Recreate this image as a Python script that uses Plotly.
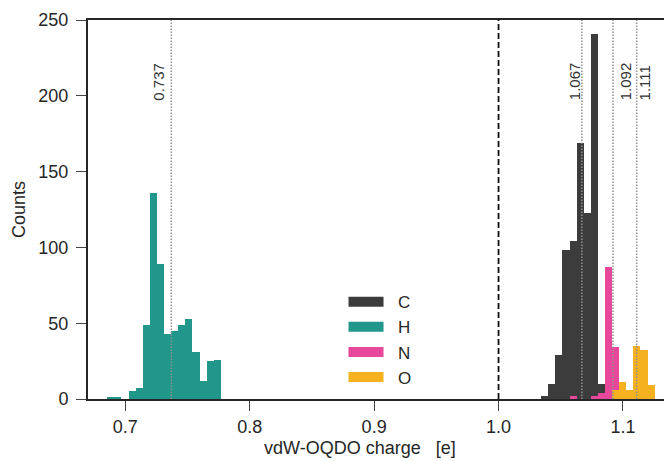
import plotly.graph_objects as go

# ---- data ----
elements = ["C", "H", "N", "O"]
colors = ["#3c3c3c", "#21968a", "#e8489b", "#f5b120"]

# histogram bin starts, bin widths and counts per element
bin_start = {"C": 1.0341, "H": 0.6855, "N": 1.0574, "O": 1.0912}
bin_width = {"C": 0.005745, "H": 0.005704, "N": 0.005657, "O": 0.005725}
counts_C = [2, 10, 29, 98, 104, 169, 123, 241, 10]
counts_H = [1, 1, 0, 5, 7, 49, 136, 89, 43, 45, 49, 53, 31, 12, 25, 26]
counts_N = [2, 0, 0, 2, 4, 87, 34]
counts_O = [6, 11, 6, 35, 32, 9]
counts = {"C": counts_C, "H": counts_H, "N": counts_N, "O": counts_O}

mean_values = [0.737, 1.067, 1.092, 1.111]
mean_labels = ["0.737", "1.067", "1.092", "1.111"]
label_xshift = [-13, -8, 12, 8]
reference_line = 1.0

x_ticks = [0.7, 0.8, 0.9, 1.0, 1.1]
x_ticklabels = ["0.7", "0.8", "0.9", "1.0", "1.1"]
y_ticks = [0, 50, 100, 150, 200, 250]

FONT = "Liberation Sans, Arial, Helvetica, sans-serif"
AX = "#262626"

fig = go.Figure()
for el, col in zip(elements, colors):
    c = counts[el]
    w = bin_width[el]
    centers = [bin_start[el] + w * (i + 0.5) for i in range(len(c))]
    fig.add_trace(go.Bar(x=centers, y=c, width=w, marker=dict(color=col, line=dict(width=0)),
                         showlegend=False, name=el))
for el, col in zip(elements, colors):
    fig.add_trace(go.Scatter(x=[None], y=[None], mode="lines", name="\u00a0\u00a0" + el,
                             line=dict(color=col, width=12)))

for v in mean_values:
    fig.add_shape(type="line", xref="x", yref="paper", x0=v, x1=v, y0=0, y1=1,
                  line=dict(color="#909090", width=1.5, dash="1.5px,1.5px"), layer="above")
fig.add_shape(type="line", xref="x", yref="paper", x0=reference_line, x1=reference_line, y0=0, y1=1,
              line=dict(color="#111111", width=1.8, dash="6px,3px"), layer="above")

for v, t, dx in zip(mean_values, mean_labels, label_xshift):
    fig.add_annotation(x=v, y=195.7, xref="x", yref="y", text=t, textangle=-90, showarrow=False,
                       xanchor="center", yanchor="bottom", xshift=dx,
                       font=dict(family=FONT, size=15, color="#333333"))

fig.add_annotation(x=0.472, y=-0.13, xref="paper", yref="paper",
                   text="vdW-OQDO charge\u00a0\u00a0\u00a0[e]", showarrow=False,
                   xanchor="center", yanchor="middle", font=dict(family=FONT, size=18, color=AX))

fig.update_layout(
    width=664, height=461,
    margin=dict(l=88, r=0, t=20, b=62),
    paper_bgcolor="white", plot_bgcolor="white",
    barmode="overlay", bargap=0,
    font=dict(family=FONT, size=18, color=AX),
    legend=dict(x=0.4436, y=0.303, xanchor="left", yanchor="top", bgcolor="rgba(0,0,0,0)",
                font=dict(family=FONT, size=17, color=AX), itemwidth=35, tracegroupgap=0),
    xaxis=dict(range=[0.67, 1.133], tickvals=x_ticks, ticktext=x_ticklabels,
               showline=True, linecolor=AX, linewidth=2, mirror=True, automargin=False,
               ticks="outside", ticklen=10, tickwidth=1.3, tickcolor="#444444",
               showgrid=False, zeroline=False, tickfont=dict(size=18)),
    yaxis=dict(range=[0, 250], tickvals=y_ticks, showline=True, linecolor=AX, linewidth=2,
               mirror=False, ticks="outside", ticklen=10, tickwidth=1.3, tickcolor="#444444",
               showgrid=False, zeroline=False, tickfont=dict(size=18), automargin=False,
               ticklabelstandoff=4,
               title=dict(text="Counts", font=dict(size=18), standoff=8)),
)

fig.write_html("out.html", post_script="document.body.style.margin='0';",
               config={"displayModeBar": False})
